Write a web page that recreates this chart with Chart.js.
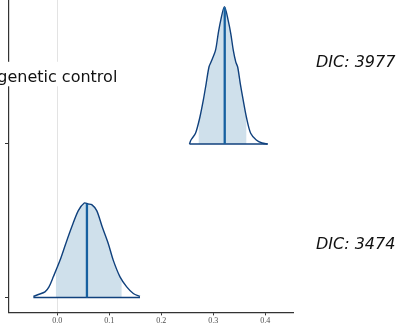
<!DOCTYPE html>
<html><head><meta charset="utf-8">
<script src="https://cdn.jsdelivr.net/npm/chart.js@4/dist/chart.umd.min.js"></script>
<style>html,body{margin:0;padding:0;background:#fff;}#wrap{width:400px;height:327px;}</style>
</head><body><div id="wrap"><canvas id="c" width="400" height="327"></canvas></div>
<script>
// ---- data ----
const categories = ['model B', 'model A'];          // bottom ridge, top ridge
const baselines = [1, 2];
const dicValues = [3474, 3977];
const xTickValues = [0.0, 0.1, 0.2, 0.3, 0.4];
const annotationText = 'genetic control';

// bottom ridge posterior density
const botX = [-0.046, -0.0365, -0.0237, -0.016, -0.0077, 0.0052, 0.0162, 0.0277, 0.0404, 0.0519, 0.059, 0.0662, 0.0758, 0.0865, 0.0981, 0.1077, 0.1206, 0.1335, 0.1462, 0.159];
const botD = [0.12, 0.36, 0.68, 1.28, 2.48, 4.46, 6.46, 8.46, 10.44, 11.36, 11.24, 11.16, 10.44, 8.46, 6.46, 4.46, 2.48, 1.28, 0.48, 0.12];
// top ridge posterior density
const topX = [0.2542, 0.2571, 0.2658, 0.2744, 0.2808, 0.2863, 0.2917, 0.2956, 0.3042, 0.3094, 0.3142, 0.3215, 0.3287, 0.3337, 0.3385, 0.3433, 0.3469, 0.3519, 0.3575, 0.3635, 0.3719, 0.3827, 0.3937, 0.4046];
const topD = [0, 0.48, 1.28, 3.27, 5.26, 7.26, 9.25, 9.84, 11.24, 13.24, 14.83, 16.51, 14.83, 13.24, 11.24, 9.84, 9.25, 7.26, 5.26, 3.27, 1.28, 0.48, 0.12, 0];

const medians = [0.057, 0.322];
const intervalLow = [-0.003, 0.2715];
const intervalHigh = [0.124, 0.364];

// ---- styling / geometry constants ----
const ridgeScale = 0.0542;
const fillColor = '#cfe0eb';
const outlineColor = '#10417d';
const medianColor = '#1660a0';

function interp(xs, ds, x) {
  if (x <= xs[0]) return ds[0];
  for (let i = 1; i < xs.length; i++) {
    if (x <= xs[i]) { const t = (x - xs[i-1]) / (xs[i] - xs[i-1]); return ds[i-1] + t * (ds[i] - ds[i-1]); }
  }
  return ds[ds.length - 1];
}

const ridges = [[botX, botD], [topX, topD]];
const datasets = [];
ridges.forEach(([xs, ds], i) => {
  const b = baselines[i];
  const lo = intervalLow[i], hi = intervalHigh[i];
  const fillPts = [{x: lo, y: b + interp(xs, ds, lo) * ridgeScale}];
  xs.forEach((x, k) => { if (x > lo && x < hi) fillPts.push({x, y: b + ds[k] * ridgeScale}); });
  fillPts.push({x: hi, y: b + interp(xs, ds, hi) * ridgeScale});
  datasets.push({data: fillPts, borderWidth: 0, borderColor: 'rgba(0,0,0,0)', backgroundColor: fillColor,
    fill: {value: b}, pointRadius: 0, tension: 0.3, order: 4});
  datasets.push({data: xs.map((x, k) => ({x, y: b + ds[k] * ridgeScale})), borderColor: outlineColor, borderWidth: 1.4,
    fill: false, pointRadius: 0, tension: 0.3, order: 2});
  datasets.push({data: [{x: xs[0], y: b}, {x: xs[xs.length-1], y: b}], borderColor: outlineColor, borderWidth: 1.4,
    fill: false, pointRadius: 0, order: 2});
  const m = medians[i];
  datasets.push({data: [{x: m, y: b}, {x: m, y: b + interp(xs, ds, m) * ridgeScale}], borderColor: medianColor, borderWidth: 2.3,
    fill: false, pointRadius: 0, order: 1});
});

const textPlugin = {
  id: 'texts',
  afterDraw(chart) {
    const ctx = chart.ctx, xs = chart.scales.x, ys = chart.scales.y;
    ctx.save();
    ctx.font = '16px "DejaVu Sans"';
    const w = ctx.measureText(annotationText).width;
    const cx = xs.getPixelForValue(0);
    const by = ys.getPixelForValue(2.405);
    ctx.fillStyle = '#ffffff';
    ctx.fillRect(cx - w / 2 - 4, by - 20, w + 8, 24.5);
    ctx.fillStyle = '#111111';
    ctx.textAlign = 'center';
    ctx.textBaseline = 'alphabetic';
    ctx.fillText(annotationText, cx, by);
    ctx.font = 'italic 16px "DejaVu Sans"';
    ctx.textAlign = 'left';
    const dicY = [1.319, 2.503];
    dicValues.forEach((v, i) => {
      ctx.fillText('DIC: ' + v, chart.chartArea.right + 23, ys.getPixelForValue(dicY[i]));
    });
    ctx.restore();
  }
};

new Chart(document.getElementById('c'), {
  type: 'line',
  data: {datasets},
  options: {
    responsive: false, animation: false, devicePixelRatio: 1,
    layout: {padding: {left: 5, right: 107, top: 0, bottom: 0}},
    plugins: {legend: {display: false}, tooltip: {enabled: false}},
    scales: {
      x: {type: 'linear', min: -0.0929, max: 0.4533,
        afterBuildTicks: s => { s.ticks = xTickValues.map(v => ({value: v})); },
        ticks: {callback: v => Number(v).toFixed(1), font: {family: '"Liberation Serif"', size: 8}, color: '#4d4d4d', padding: 1, maxRotation: 0, autoSkip: false},
        grid: {color: c => (c.tick && c.tick.value === 0) ? '#e3e3e3' : 'rgba(0,0,0,0)', tickColor: '#333333', tickLength: 3, lineWidth: 1},
        border: {color: '#333333', width: 1.2}},
      y: {type: 'linear', min: 0.9028, max: 2.9378,
        afterBuildTicks: s => { s.ticks = baselines.map(v => ({value: v})); },
        ticks: {display: false},
        grid: {drawOnChartArea: false, tickLength: 4, tickColor: '#333333'},
        border: {color: '#333333', width: 1.2}}
    }
  },
  plugins: [textPlugin]
});
</script></body></html>
